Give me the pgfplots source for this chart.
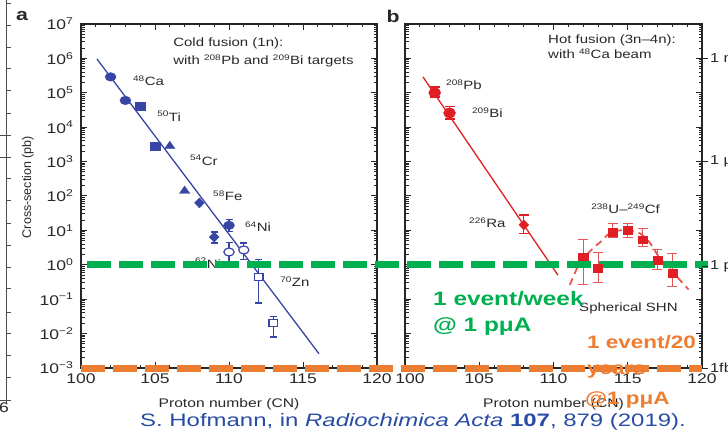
\documentclass[border=0pt]{standalone}
\usepackage{fontspec}
\setmainfont{Liberation Sans}[FakeStretch=1.25]
\newfontfamily\plainfont{Liberation Sans}
\newfontfamily\citefont{Liberation Sans}[FakeStretch=1.33]
\usepackage{pgfplots}
\pgfplotsset{compat=1.18}
\definecolor{bl}{RGB}{55,70,165}
\definecolor{rd}{RGB}{225,30,35}
\definecolor{rdl}{RGB}{232,85,85}
\definecolor{gr}{RGB}{0,176,80}
\definecolor{orng}{RGB}{237,125,49}
\definecolor{cite}{RGB}{40,75,165}
\definecolor{txt}{RGB}{40,40,40}
\begin{document}
\begin{tikzpicture}[x=1pt,y=1pt]
\path[use as bounding box] (0,0) rectangle (728,439);
% left decoration
\draw[line width=0.8pt, black!70] (6,439) -- (6,36);
\foreach \yy in {3,25,47,68,90,113,135,157,178,200,223,245,267,288,312,333,355,377,400}
  \draw[line width=0.8pt, black!70] (6,439-\yy) -- (11,439-\yy);
\foreach \yy in {135,157,400}
  \draw[line width=0.8pt, black!70] (0,439-\yy) -- (6,439-\yy);
\node[font=\fontsize{14}{16}\selectfont, text=txt] at (4,31) {6};

\begin{axis}[ymode=log, scale only axis, height=344pt, width=296pt,
  at={(81pt,71pt)}, anchor=south west,
  xmin=100, xmax=120, ymin=1e-3, ymax=1e7,
  xtick={100,105,110,115,120}, minor x tick num=4,
  ytickten={-3,...,7},
  minor ytick={2e-3,3e-3,4e-3,5e-3,6e-3,7e-3,8e-3,9e-3,2e-2,3e-2,4e-2,5e-2,6e-2,7e-2,8e-2,9e-2,0.2,0.3,0.4,0.5,0.6,0.7,0.8,0.9,2,3,4,5,6,7,8,9,20,30,40,50,60,70,80,90,200,300,400,500,600,700,800,900,2e3,3e3,4e3,5e3,6e3,7e3,8e3,9e3,2e4,3e4,4e4,5e4,6e4,7e4,8e4,9e4,2e5,3e5,4e5,5e5,6e5,7e5,8e5,9e5,2e6,3e6,4e6,5e6,6e6,7e6,8e6,9e6},
  tick align=inside, major tick length=6pt, minor tick length=3.5pt,
  axis line style={line width=1.3pt, black!85},
  every tick/.style={line width=1pt, black!85},
  /pgf/number format/assume math mode=true,
  /pgf/number format/1000 sep={},
  tick label style={font=\fontsize{14}{16}\selectfont, text=txt},
  xticklabel style={yshift=-2pt},
  xlabel={Proton number (CN)},
  xlabel style={font=\fontsize{12.5}{14}\selectfont, text=txt, at={(axis description cs:0.5,-0.105)}, anchor=center},
  clip=false,
  yticklabels={10\textsuperscript{−3},10\textsuperscript{−2},10\textsuperscript{−1},10\textsuperscript{0},10\textsuperscript{1},10\textsuperscript{2},10\textsuperscript{3},10\textsuperscript{4},10\textsuperscript{5},10\textsuperscript{6},10\textsuperscript{7}},
  yticklabel style={xshift=-4pt}]
\addplot[bl, line width=1.3pt, no marks] coordinates {(101.08,9.6e5) (116.08,2.6e-3)};
\addplot[only marks, mark=*, bl, mark size=4.3pt, mark options={xscale=1.28}] coordinates {(102,2.9e5) (103,6e4)};
\addplot[only marks, mark=square*, bl, mark size=4.2pt, mark options={xscale=1.2}] coordinates {(104,4e4) (105,2.8e3)};
\addplot[only marks, mark=triangle*, bl, mark size=5pt, mark options={xscale=1.2}] coordinates {(106,2.8e3) (107,140)};
\addplot[only marks, mark=diamond*, bl, mark size=5pt, mark options={xscale=1.3},
  error bars/.cd, y dir=both, y explicit, error bar style={line width=1.2pt, bl},
  error mark options={mark size=3.5pt, line width=1.2pt, bl, rotate=90}]
  coordinates {(108,63) (109,6.4) += (0,2.6) -= (0,2.1)};
\addplot[only marks, mark=*, bl, mark size=4.3pt, mark options={xscale=1.28},
  error bars/.cd, y dir=both, y explicit, error bar style={line width=1.2pt, bl},
  error mark options={mark size=3.5pt, line width=1.2pt, bl, rotate=90}]
  coordinates {(110,14) += (0,7) -= (0,4.5)};
\addplot[only marks, mark=*, bl, mark size=4pt, mark options={xscale=1.28, fill=white, line width=1.2pt},
  error bars/.cd, y dir=both, y explicit, error bar style={line width=1.2pt, bl},
  error mark options={mark size=3.5pt, line width=1.2pt, bl, rotate=90}]
  coordinates {(110,2.35) += (0,2.15) -= (0,1.15) (111,2.7) += (0,1.6) -= (0,1.3)};
\addplot[only marks, mark=square*, bl, mark size=3.6pt, mark options={xscale=1.2, fill=white, line width=1.2pt},
  error bars/.cd, y dir=both, y explicit, error bar style={line width=1.2pt, bl},
  error mark options={mark size=3.5pt, line width=1.2pt, bl, rotate=90}]
  coordinates {(112,0.44) += (0,0.96) -= (0,0.362) (113,0.02) += (0,0.012) -= (0,0.012)};
\begin{scope}[every node/.style={font=\fontsize{12}{14}\selectfont, text=txt, anchor=west, inner sep=0pt}]
\node at (axis cs:106.22,2.8e6) {Cold fusion (1n):};
\node at (axis cs:106.22,8.3e5) {with \textsuperscript{208}Pb and \textsuperscript{209}Bi targets};
\node at (axis cs:103.51,2.2e5) {\textsuperscript{48}Ca};
\node at (axis cs:105.14,2.1e4) {\textsuperscript{50}Ti};
\node at (axis cs:107.36,1.1e3) {\textsuperscript{54}Cr};
\node at (axis cs:108.92,100) {\textsuperscript{58}Fe};
\node at (axis cs:111.08,12.6) {\textsuperscript{64}Ni};
\node at (axis cs:107.7,1.12) {\textsuperscript{62}Ni};
\node at (axis cs:113.45,0.316) {\textsuperscript{70}Zn};
\end{scope}
\end{axis}

\begin{axis}[ymode=log, scale only axis, height=344pt, width=297pt,
  at={(405pt,71pt)}, anchor=south west,
  xmin=100, xmax=120, ymin=1e-3, ymax=1e7,
  xtick={100,105,110,115,120}, minor x tick num=4,
  xticklabels={\hspace*{10pt}100,105,110,115,120},
  ytickten={-3,...,7},
  minor ytick={2e-3,3e-3,4e-3,5e-3,6e-3,7e-3,8e-3,9e-3,2e-2,3e-2,4e-2,5e-2,6e-2,7e-2,8e-2,9e-2,0.2,0.3,0.4,0.5,0.6,0.7,0.8,0.9,2,3,4,5,6,7,8,9,20,30,40,50,60,70,80,90,200,300,400,500,600,700,800,900,2e3,3e3,4e3,5e3,6e3,7e3,8e3,9e3,2e4,3e4,4e4,5e4,6e4,7e4,8e4,9e4,2e5,3e5,4e5,5e5,6e5,7e5,8e5,9e5,2e6,3e6,4e6,5e6,6e6,7e6,8e6,9e6},
  yticklabels={},
  tick align=inside, major tick length=6pt, minor tick length=3.5pt,
  axis line style={line width=1.3pt, black!85},
  every tick/.style={line width=1pt, black!85},
  /pgf/number format/assume math mode=true,
  /pgf/number format/1000 sep={},
  tick label style={font=\fontsize{14}{16}\selectfont, text=txt},
  xticklabel style={yshift=-2pt},
  xlabel={Proton number (CN)},
  xlabel style={font=\fontsize{12.5}{14}\selectfont, text=txt, at={(axis description cs:0.5,-0.105)}, anchor=center},
  clip=false]
\addplot[rd, line width=1.3pt, no marks] coordinates {(101.21,2.9e5) (110.3,0.5)};
\addplot[rdl, line width=1.8pt, dash pattern=on 7pt off 5pt, no marks, smooth]
  coordinates {(111.1,0.26) (111.8,1.2) (112.7,3.1) (113.3,5.2) (113.8,8.3) (114.7,10.2) (115.8,8.3) (116.5,4.3) (117.1,1.7) (118.0,0.63) (119.1,0.19)};
\addplot[only marks, mark=*, rd, mark size=5pt, mark options={xscale=1.2},
  error bars/.cd, y dir=both, y explicit, error bar style={line width=1.2pt, rd},
  error mark options={mark size=5pt, line width=1.2pt, rd, rotate=90}]
  coordinates {(102,1e5) += (0,4.8e4) -= (0,2.4e4) (103,2.6e4) += (0,1.3e4) -= (0,0.86e4)};
\addplot[only marks, mark=diamond*, rd, mark size=5pt, mark options={xscale=1.3},
  error bars/.cd, y dir=both, y explicit, error bar style={line width=1.2pt, rd},
  error mark options={mark size=5pt, line width=1.2pt, rd, rotate=90}]
  coordinates {(108,14.5) += (0,13.5) -= (0,6.2)};
\addplot[only marks, mark=square*, rd, mark size=3.8pt, mark options={xscale=1.2},
  error bars/.cd, y dir=both, y explicit, error bar style={line width=1pt, rdl},
  error mark options={mark size=5pt, line width=1pt, rdl, rotate=90}]
  coordinates {(112,1.7) += (0,3.6) -= (0,1.44) (113,0.81) += (0,1.54) -= (0,0.51)
   (114,9.0) += (0,7.4) -= (0,2.6) (115,10.3) += (0,6.1) -= (0,3.9) (116,5.3) += (0,6.4) -= (0,2.0)
   (117,1.38) += (0,1.32) -= (0,0.67) (118,0.58) += (0,1.62) -= (0,0.35)};
\begin{scope}[every node/.style={font=\fontsize{12}{14}\selectfont, text=txt, anchor=west, inner sep=0pt}]
\node at (axis cs:109.63,3.4e6) {Hot fusion (3n–4n):};
\node at (axis cs:109.63,1.34e6) {with \textsuperscript{48}Ca beam};
\node at (axis cs:102.76,1.7e5) {\textsuperscript{208}Pb};
\node at (axis cs:104.51,2.6e4) {\textsuperscript{209}Bi};
\node at (axis cs:104.31,16.4) {\textsuperscript{226}Ra};
\node at (axis cs:112.53,41.7) {\textsuperscript{238}U–\textsuperscript{249}Cf};
\node at (axis cs:111.72,0.0555) {Spherical SHN};
\end{scope}
\addplot[gr, line width=7pt, dash pattern=on 24pt off 8pt, no marks] coordinates {(78.59,1) (120.4,1)};
\addplot[orng, line width=7pt, dash pattern=on 24pt off 8pt, no marks] coordinates {(78.18,1e-3) (120,1e-3)};
\end{axis}

% right-side fragments
\foreach \yy/\lab in {58/{1 n},161/{1 μ},266/{1 p},368/{1fb}} {
  \draw[line width=0.9pt, black!85] (702,439-\yy) -- (708,439-\yy);
  \node[anchor=west, font=\fontsize{13}{15}\selectfont, text=txt, inner sep=0pt] at (710,439-\yy) {\lab};
}
% panel letters and y label
\node[font=\bfseries\fontsize{17}{19}\selectfont, text=txt] at (22,423) {a};
\node[font=\bfseries\fontsize{17}{19}\selectfont, text=txt] at (393,423) {b};
\node[rotate=90, font=\plainfont\fontsize{12.5}{14}\selectfont, text=txt] at (28,252) {Cross-section (pb)};
% overlay texts
\node[anchor=west, inner sep=0pt, font=\bfseries\fontsize{19.5}{22}\selectfont, text=gr] at (433,140) {1 event/week};
\node[anchor=west, inner sep=0pt, font=\bfseries\fontsize{19.5}{22}\selectfont, text=gr] at (433,112) {@ 1 pμA};
\node[anchor=west, inner sep=0pt, font=\bfseries\fontsize{18}{20}\selectfont, text=orng] at (587,97) {1 event/20};
\node[anchor=west, inner sep=0pt, font=\bfseries\fontsize{18}{20}\selectfont, text=orng] at (587,67) {years};
\node[anchor=west, inner sep=0pt, font=\bfseries\fontsize{18}{20}\selectfont, text=orng] at (585,39) {@1 pμA};
\node[anchor=west, inner sep=0pt, font=\citefont\fontsize{18}{20}\selectfont, text=cite] at (140,17) {S. Hofmann, in \textit{Radiochimica Acta} \textbf{107}, 879 (2019).};
\end{tikzpicture}
\end{document}
